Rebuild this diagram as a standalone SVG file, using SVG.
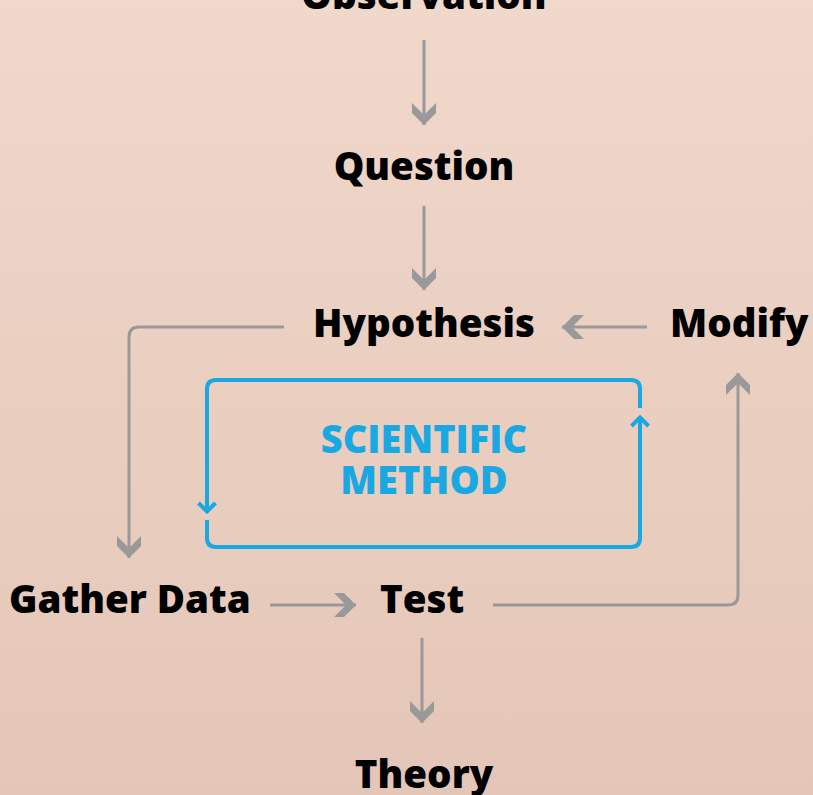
<svg xmlns="http://www.w3.org/2000/svg" width="813" height="795" viewBox="0 0 813 795">
  <defs>
    <linearGradient id="bg" x1="0" y1="0" x2="0" y2="1">
      <stop offset="0" stop-color="#f0d8ca"/>
      <stop offset="1" stop-color="#e4c6b8"/>
    </linearGradient>
    <marker id="gh" markerUnits="userSpaceOnUse" viewBox="-24 -15 26 30" refX="0" refY="0" markerWidth="26" markerHeight="30" orient="auto">
      <path d="M0,0 L-12,12 L-22,12 L-10,0 L-22,-12 L-12,-12 Z" fill="#999999"/>
    </marker>
    <marker id="bh" markerUnits="userSpaceOnUse" viewBox="-14 -12 16 24" refX="0" refY="0" markerWidth="16" markerHeight="24" orient="auto">
      <path d="M-9,-8.5 L-0.5,0 L-9,8.5" fill="none" stroke="#1aa8e2" stroke-width="4" stroke-linejoin="miter"/>
    </marker>
    <style>
      .lbl { font-family: "Open Sans", "Liberation Sans", sans-serif; font-weight: 800; font-size: 38.5px; fill: #000; }
      .sm { font-family: "Open Sans", "Liberation Sans", sans-serif; font-weight: 800; font-size: 38px; fill: #1aa8e2; text-anchor: middle; }
      .g { fill: none; stroke: #999999; stroke-width: 3; marker-end: url(#gh); }
      .b { fill: none; stroke: #1aa8e2; stroke-width: 4; marker-end: url(#bh); }
    </style>
  </defs>
  <rect x="0" y="0" width="813" height="795" fill="url(#bg)"/>

  <g id="connectors">
    <path class="g" d="M424,40 V125"/>
    <path class="g" d="M424,206 V290"/>
    <path class="g" d="M647,327 H562"/>
    <path class="g" d="M284,327 H139 Q129,327 129,337 V558"/>
    <path class="g" d="M270,605 H356"/>
    <path class="g" d="M493,605 H728 Q738,605 738,595 V373"/>
    <path class="g" d="M422,638 V723"/>
  </g>

  <g id="cycle">
    <path class="b" d="M640,408 V389 Q640,380 631,380 H216 Q207,380 207,389 V512"/>
    <path class="b" d="M207,520 V538 Q207,547 216,547 H631 Q640,547 640,538 V417"/>
    <text class="sm" x="424" y="453">SCIENTIFIC</text>
    <text class="sm" x="424" y="494">METHOD</text>
  </g>

  <g id="observation"><text class="lbl" x="424" y="9" text-anchor="middle">Observation</text></g>
  <g id="question"><text class="lbl" x="424" y="180" text-anchor="middle">Question</text></g>
  <g id="hypothesis"><text class="lbl" x="424" y="337" text-anchor="middle">Hypothesis</text></g>
  <g id="modify"><text class="lbl" x="670" y="337">Modify</text></g>
  <g id="gather-data"><text class="lbl" x="9" y="613">Gather Data</text></g>
  <g id="test"><text class="lbl" x="380" y="613">Test</text></g>
  <g id="theory"><text class="lbl" x="424" y="788" text-anchor="middle">Theory</text></g>
</svg>
